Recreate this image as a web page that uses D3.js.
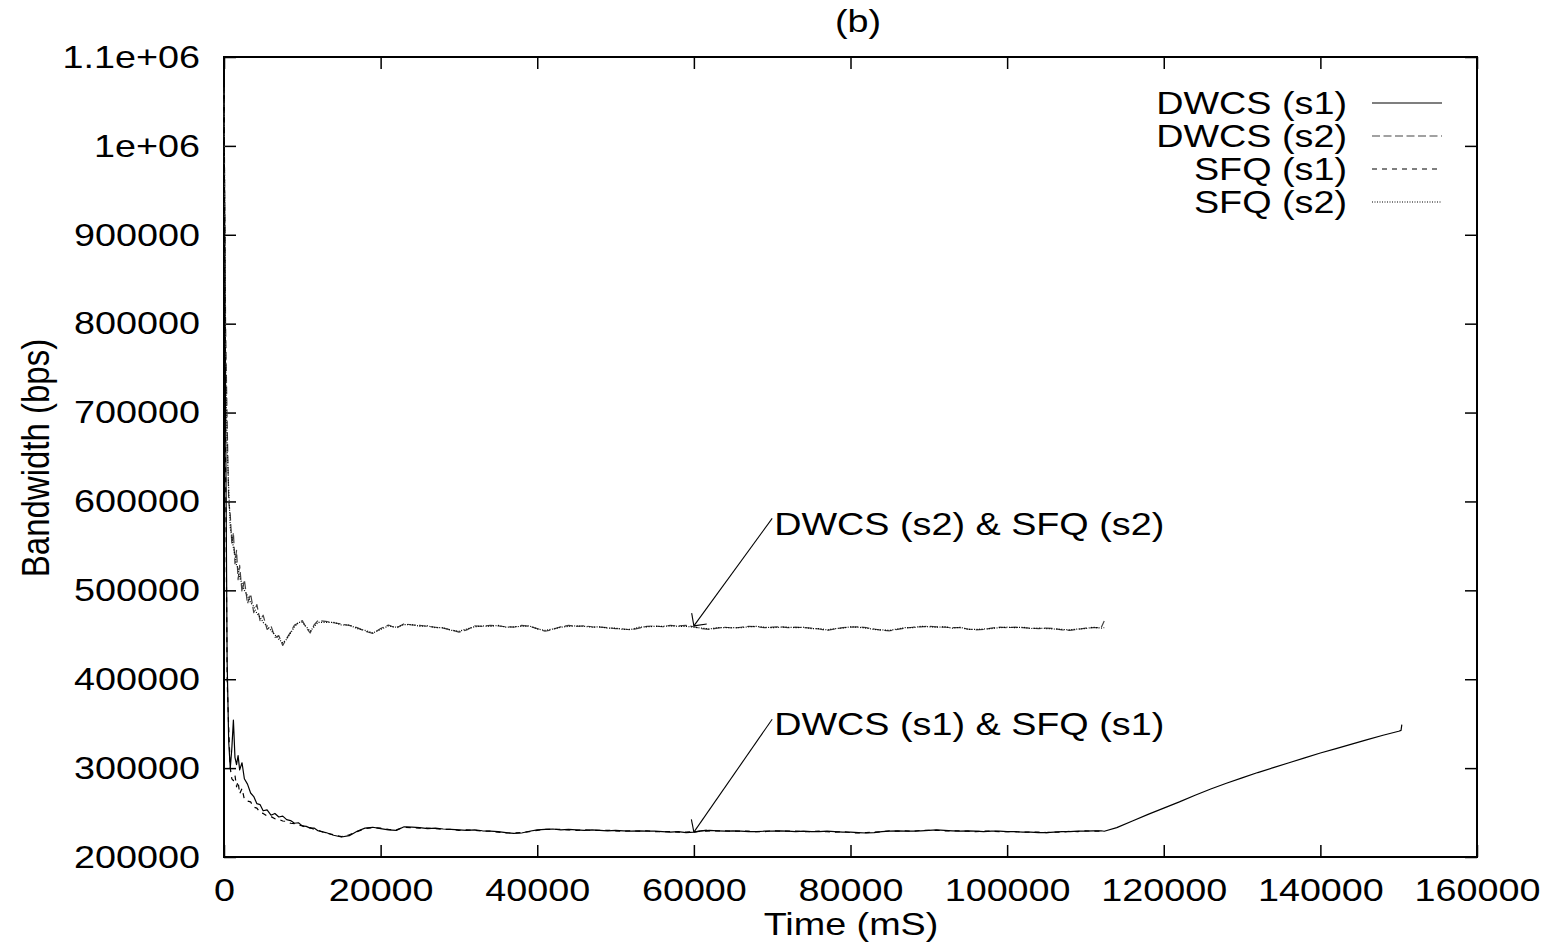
<!DOCTYPE html>
<html>
<head>
<meta charset="utf-8">
<script src="https://cdn.jsdelivr.net/npm/d3@7"></script>
<style>
  body { margin: 0; background: #fff; }
  svg { display: block; }
  text { font-family: "Liberation Sans", Arial, Helvetica, sans-serif; fill: #000; }
</style>
</head>
<body>
<svg id="chart" width="1554" height="942"></svg>
<script>
// Sample times (ms) shared by the four measured series
const timeMs = [
  0, 200, 400, 600, 800, 1000, 1200, 1400, 1600, 1800, 2000, 2300, 2600, 3000, 3400, 3800,
  4200, 4600, 5000, 5500, 6000, 6500, 7000, 7500, 8000, 8500, 9000, 9500, 10000, 10500, 11000, 11500, 12000,
  13000, 14000, 15000, 16000, 17000, 18000, 19000, 20000, 21000, 22000,
  23000, 24000, 25000, 26000, 27000, 28000, 29000, 30000, 31000, 32000,
  33000, 34000, 35000, 36000, 37000, 38000, 39000, 40000, 41000, 42000,
  43000, 44000, 45000, 46000, 47000, 48000, 49000, 50000, 51000, 52000,
  53000, 54000, 55000, 56000, 57000, 58000, 59000, 60000, 61000, 62000,
  63000, 64000, 65000, 66000, 67000, 68000, 69000, 70000, 71000, 72000,
  73000, 74000, 75000, 76000, 77000, 78000, 79000, 80000, 81000, 82000,
  83000, 84000, 85000, 86000, 87000, 88000, 89000, 90000, 91000, 92000,
  93000, 94000, 95000, 96000, 97000, 98000, 99000, 100000, 101000, 102000,
  103000, 104000, 105000, 106000, 107000, 108000, 109000, 110000, 111000, 112000,
  112400
];

// Bandwidth (bps), stream s2
const dwcsS2 = [
  1066000, 800000, 690000, 600000, 585000, 552000, 565000, 530000, 545000, 512000, 528000, 498000, 512000, 485000, 496000, 475000,
  484000, 466000, 472000, 456000, 460000, 447000, 449000, 438000, 446000, 453000, 461000, 463000, 466000, 458000, 452000, 461000, 466000,
  465000, 463500, 462000, 460500, 458000, 454000, 451500, 457000, 461000, 457500,
  462500, 461000, 460500, 459500, 458500, 457500, 455500, 453000, 455500, 460000,
  459500, 460500, 460000, 459000, 458500, 460500, 459500, 457000, 454000, 456000,
  459000, 460500, 459500, 460000, 459000, 458500, 458000, 457000, 456500, 455500,
  457500, 459500, 460000, 459000, 460500, 460000, 460500, 459000, 457000, 456000,
  457500, 458500, 457500, 458500, 459500, 459000, 458000, 458500, 459000, 458000,
  458500, 458000, 457500, 456500, 455000, 456500, 458000, 458500, 459000, 458000,
  456500, 455000, 454500, 456000, 457500, 458500, 459000, 459500, 459000, 458500,
  458000, 458000, 456500, 455500, 456000, 457500, 458500, 458000, 458500, 458000,
  457500, 457000, 457500, 457000, 455500, 455000, 456000, 457500, 458000, 458000,
  465500
];
const sfqS2 = [
  1066000, 760000, 660000, 615000, 570000, 560000, 548000, 540000, 528000, 525000, 514000, 508000, 500000, 494000, 486000, 482000,
  474000, 470000, 464000, 460000, 455000, 450000, 445000, 441000, 445000, 452000, 459000, 464000, 464000, 459000, 454000, 459000, 464000,
  464000, 464000, 461000, 461000, 457000, 455000, 452000, 456000, 460000, 458500,
  461500, 461500, 459500, 460000, 458000, 458000, 455000, 454000, 456500, 459000,
  460000, 459500, 460500, 458500, 459000, 459500, 460000, 456500, 455000, 456500,
  458500, 459500, 460000, 459500, 458500, 459000, 457500, 457500, 456000, 456000,
  458500, 459000, 459500, 459500, 460000, 459500, 459500, 458500, 457500, 456500,
  458000, 458000, 458000, 458000, 459000, 459500, 458500, 458000, 458500, 458500,
  458000, 458500, 457000, 457000, 455500, 457000, 457500, 459000, 458500, 457500,
  456000, 455500, 455000, 456500, 458000, 458000, 459500, 459000, 458500, 459000,
  457500, 458500, 456000, 456000, 456500, 457000, 458000, 458500, 458000, 458500,
  457000, 457500, 457000, 456500, 456000, 455500, 456500, 457000, 458500, 457500,
  458000
];

// Bandwidth (bps), stream s1
const dwcsS1 = [
  1066000, 700000, 420000, 330000, 300000, 322000, 354000, 312000, 304000, 314000, 298000, 306000, 288000, 282000, 272000, 268000,
  260000, 259000, 252000, 253000, 247000, 249000, 245000, 246000, 242000, 241000, 238000, 238500, 235000, 234500, 232500, 232500, 229500,
  227500, 224500, 222500, 224000, 229000, 232500, 233500, 232000, 230500, 230000,
  234000, 233500, 233000, 232000, 232500, 231500, 231000, 230500, 230000, 230500,
  229500, 229000, 228500, 227500, 226500, 227000, 229000, 230500, 231000, 231500,
  230500, 231000, 230500, 230000, 230500, 230000, 229500, 230000, 229500, 229000,
  229500, 229000, 229000, 228500, 228000, 228500, 227500, 228000, 229500, 230000,
  229500, 229000, 229500, 229000, 228500, 228500, 229000, 229000, 229500, 229000,
  228500, 229000, 228500, 228500, 229000, 228500, 228000, 228000, 227500, 227000,
  227500, 228500, 229000, 229500, 229000, 229000, 229500, 230000, 230500, 230000,
  229500, 229000, 229500, 229000, 228500, 229000, 229000, 228500, 228500, 228000,
  228000, 227500, 227500, 228000, 228500, 228500, 229000, 229000, 229500, 229500,
  229000
];
const sfqS1 = [
  1066000, 650000, 400000, 345000, 300000, 288000, 286000, 292000, 279000, 285000, 271000, 277000, 265000, 263000, 262000, 256000,
  255000, 250000, 249000, 246000, 245500, 243000, 242500, 240500, 240000, 238000, 237500, 236000, 235000, 233500, 233000, 231000, 230000,
  227000, 225000, 223000, 225000, 228500, 232000, 233000, 232500, 231000, 230500,
  233500, 233000, 232500, 232500, 232000, 231000, 231000, 230000, 230500, 230000,
  229000, 229000, 228000, 227000, 227000, 227500, 228500, 230000, 231000, 231000,
  231000, 230500, 230000, 230500, 230000, 230000, 230000, 229500, 229000, 229500,
  229000, 229500, 228500, 228500, 228500, 228000, 228000, 228500, 229000, 229500,
  229500, 229500, 229000, 229000, 229000, 228500, 228500, 229500, 229000, 229000,
  229000, 228500, 228500, 229000, 228500, 228000, 228500, 227500, 227000, 227500,
  228000, 228500, 229500, 229000, 229500, 229000, 230000, 230000, 230000, 229500,
  229500, 229500, 229000, 228500, 229000, 229000, 228500, 228500, 228500, 228000,
  228000, 228000, 227500, 228000, 228000, 229000, 228500, 229500, 229000, 229000,
  229000
];

// DWCS (s1) keeps running after the other streams stop
const tailTimeMs = [
  114000, 116000, 118000, 120000, 122000, 124000, 126000, 128000, 130000, 132000,
  134000, 136000, 138000, 140000, 142000, 144000, 146000, 148000, 150000, 150300, 150400
];
const dwcsS1Tail = [
  233000, 240500, 248000, 255000, 262000, 269500, 276500, 283000, 289000, 295000,
  300500, 306000, 311500, 317000, 322000, 327000, 332000, 337000, 341500, 342500, 349000
];

const xTicks = [0, 20000, 40000, 60000, 80000, 100000, 120000, 140000, 160000];
const yTicks = [200000, 300000, 400000, 500000, 600000, 700000, 800000, 900000, 1000000, 1100000];
const yTickLabels = ["200000", "300000", "400000", "500000", "600000", "700000", "800000", "900000", "1e+06", "1.1e+06"];
const seriesNames = ["DWCS (s1)", "DWCS (s2)", "SFQ (s1)", "SFQ (s2)"];

// Labelled arrows: label anchor, arrow start and arrow tip in data units
const noteText = ["DWCS (s2) & SFQ (s2)", "DWCS (s1) & SFQ (s1)"];
const noteLabelAt = [[70000, 575000], [70000, 350000]];
const noteFrom = [[70000, 581000], [70000, 355000]];
const noteTo = [[60000, 460000], [60000, 228000]];

const svg = d3.select("#chart");
const plotLeft = 224, plotRight = 1477, plotTop = 57, plotBottom = 857;
const FS = 32, SX = 1.18; // font size and horizontal stretch of lettering

const x = d3.scaleLinear().domain([0, 160000]).range([plotLeft, plotRight]);
const y = d3.scaleLinear().domain([200000, 1100000]).range([plotBottom, plotTop]);

const styles = [
  { color: "#000", dash: null, width: 1.2 },
  { color: "#444", dash: "8,3.5", width: 1.2 },
  { color: "#000", dash: "5,5", width: 1.2 },
  { color: "#000", dash: "1,1.5", width: 1.2 }
];

const series = [
  timeMs.map((t, i) => [t, dwcsS1[i]]).concat(tailTimeMs.map((t, i) => [t, dwcsS1Tail[i]])),
  timeMs.map((t, i) => [t, dwcsS2[i]]),
  timeMs.map((t, i) => [t, sfqS1[i]]),
  timeMs.map((t, i) => [t, sfqS2[i]])
];

// Frame and ticks (ticks point inward on all four sides)
const axG = svg.append("g");
axG.append("g").attr("transform", `translate(0,${plotBottom})`)
  .call(d3.axisBottom(x).tickValues(xTicks).tickFormat(d3.format("d")).tickSizeInner(-12).tickSizeOuter(0).tickPadding(21));
axG.append("g").attr("transform", `translate(0,${plotTop})`)
  .call(d3.axisTop(x).tickValues(xTicks).tickFormat("").tickSizeInner(-12).tickSizeOuter(0));
axG.append("g").attr("transform", `translate(${plotLeft},0)`)
  .call(d3.axisLeft(y).tickValues(yTicks).tickFormat((d, i) => yTickLabels[i]).tickSizeInner(-12).tickSizeOuter(0).tickPadding(24 / SX));
axG.append("g").attr("transform", `translate(${plotRight},0)`)
  .call(d3.axisRight(y).tickValues(yTicks).tickFormat("").tickSizeInner(-12).tickSizeOuter(0));

axG.selectAll(".domain").remove();
axG.selectAll(".tick line").attr("stroke", "#000").attr("stroke-width", 1.5);
axG.selectAll(".tick text")
  .attr("font-family", "Liberation Sans, Arial, sans-serif")
  .attr("font-size", FS).attr("fill", "#000")
  .attr("transform", `scale(${SX},1)`);

svg.append("rect")
  .attr("x", plotLeft).attr("y", plotTop)
  .attr("width", plotRight - plotLeft).attr("height", plotBottom - plotTop)
  .attr("fill", "none").attr("stroke", "#000").attr("stroke-width", 2);

// Measured series
const line = d3.line().x(d => x(d[0])).y(d => y(d[1]));
series.forEach((s, i) => {
  svg.append("path")
    .datum(s)
    .attr("d", line)
    .attr("fill", "none")
    .attr("stroke", styles[i].color)
    .attr("stroke-width", styles[i].width)
    .attr("stroke-dasharray", styles[i].dash)
    .attr("stroke-linejoin", "round");
});

// Stretched text helper
function label(px, py, str, anchor) {
  return svg.append("text")
    .attr("transform", `translate(${px},${py}) scale(${SX},1)`)
    .attr("text-anchor", anchor)
    .attr("dy", "0.35em")
    .attr("font-size", FS)
    .text(str);
}

// Legend
const legendRowY = [103, 136, 169, 202];
seriesNames.forEach((name, i) => {
  label(1347, legendRowY[i], name, "end");
  svg.append("line")
    .attr("x1", 1372).attr("x2", 1442)
    .attr("y1", legendRowY[i]).attr("y2", legendRowY[i])
    .attr("stroke", styles[i].color)
    .attr("stroke-width", styles[i].width)
    .attr("stroke-dasharray", styles[i].dash);
});

// Annotations with open arrow heads
noteText.forEach((str, i) => {
  label(x(noteLabelAt[i][0]) + 2, y(noteLabelAt[i][1]), str, "start");
  const x1 = x(noteFrom[i][0]), y1 = y(noteFrom[i][1]);
  const x2 = x(noteTo[i][0]), y2 = y(noteTo[i][1]);
  svg.append("line").attr("x1", x1).attr("y1", y1).attr("x2", x2).attr("y2", y2)
    .attr("stroke", "#000").attr("stroke-width", 1.1);
  const ang = Math.atan2(y1 - y2, x1 - x2);
  [-0.8, 0.8].forEach(off => {
    svg.append("line")
      .attr("x1", x2).attr("y1", y2)
      .attr("x2", x2 + 13 * Math.cos(ang + off))
      .attr("y2", y2 + 13 * Math.sin(ang + off))
      .attr("stroke", "#000").attr("stroke-width", 1.1);
  });
});

// Titles
label(858, 21, "(b)", "middle");
label(851, 924, "Time (mS)", "middle");
svg.append("text")
  .attr("transform", `translate(35,458) scale(${SX},1) rotate(-90)`)
  .attr("text-anchor", "middle")
  .attr("dy", "0.35em")
  .attr("font-size", 33)
  .text("Bandwidth (bps)");
</script>
</body>
</html>
